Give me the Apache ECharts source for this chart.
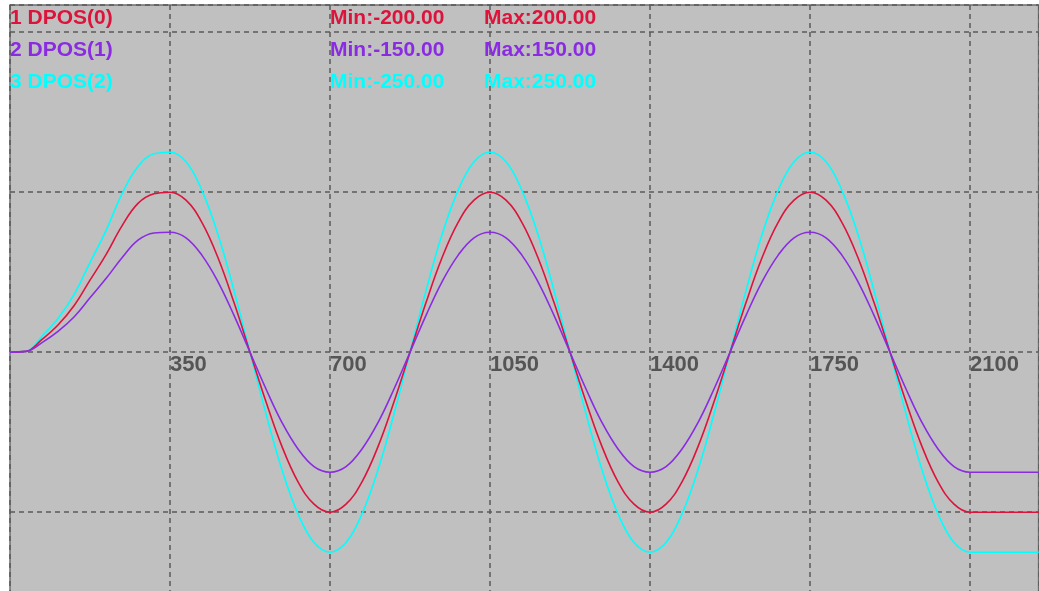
<!DOCTYPE html>
<html>
<head>
<meta charset="utf-8">
<script src="https://cdn.jsdelivr.net/npm/echarts@6/dist/echarts.min.js"></script>
<style>
html,body{margin:0;padding:0;background:#ffffff;}
#chart{width:1039px;height:591px;}
</style>
</head>
<body>
<div id="chart"></div>
<script>
// Sample positions (x axis units)
const xValues = [0,35,70,105,140,175,210,245,280,315,350,
  385,420,455,490,525,560,595,630,665,700,
  735,770,805,840,875,910,945,980,1015,1050,
  1085,1120,1155,1190,1225,1260,1295,1330,1365,1400,
  1435,1470,1505,1540,1575,1610,1645,1680,1715,1750,
  1785,1820,1855,1890,1925,1960,1995,2030,2065,2100,
  2135,2250];

// 1 DPOS(0)
const dpos0 = [0,1,16,34,58,90,122,158,186,198,200,
  190,162,118,62,0,-62,-118,-162,-190,-200,
  -190,-162,-118,-62,0,62,118,162,190,200,
  190,162,118,62,0,-62,-118,-162,-190,-200,
  -190,-162,-118,-62,0,62,118,162,190,200,
  190,162,118,62,0,-62,-118,-162,-190,-200,
  -200,-200];

// 2 DPOS(1)
const dpos1 = [0,1,12,26,44,68,92,118,140,149,150,
  143,121,88,46,0,-46,-88,-121,-143,-150,
  -143,-121,-88,-46,0,46,88,121,143,150,
  143,121,88,46,0,-46,-88,-121,-143,-150,
  -143,-121,-88,-46,0,46,88,121,143,150,
  143,121,88,46,0,-46,-88,-121,-143,-150,
  -150,-150];

// 3 DPOS(2)
const dpos2 = [0,1,20,42,72,112,152,198,232,248,250,
  238,202,147,77,0,-77,-147,-202,-238,-250,
  -238,-202,-147,-77,0,77,147,202,238,250,
  238,202,147,77,0,-77,-147,-202,-238,-250,
  -238,-202,-147,-77,0,77,147,202,238,250,
  238,202,147,77,0,-77,-147,-202,-238,-250,
  -250,-250];

const seriesNames = ['1 DPOS(0)', '2 DPOS(1)', '3 DPOS(2)'];
const minLabels = ['Min:-200.00', 'Min:-150.00', 'Min:-250.00'];
const maxLabels = ['Max:200.00', 'Max:150.00', 'Max:250.00'];
const colors = ['#dc143c', '#8a2be2', '#00ffff'];

function pairs(ys){ return xValues.map((x,i)=>[x, ys[i]]); }

const chart = echarts.init(document.getElementById('chart'), null, {renderer:'canvas'});

const textFont = 'bold 21px "Liberation Sans", Arial, sans-serif';
const graphics = [];
seriesNames.forEach((n, i) => {
  const y = 18.5 + i * 32;
  graphics.push({type:'text', left:10, top:y-11, z:100,
    style:{text:n, fill:colors[i], font:textFont}});
  graphics.push({type:'text', left:330, top:y-11, z:100,
    style:{text:minLabels[i], fill:colors[i], font:textFont}});
  graphics.push({type:'text', left:484, top:y-11, z:100,
    style:{text:maxLabels[i], fill:colors[i], font:textFont}});
});

const gridLine = {show:true, lineStyle:{color:'#5a5a5a', width:1.5, type:[5,4]}};

// grid geometry: 0 on the y axis sits 319.9px above the grid's bottom edge
const gridTop = 5, gridHeight = 667.2, yMin = -400, yMax = 434;
const zeroOffset = gridHeight * (0 - yMin) / (yMax - yMin);

chart.setOption({
  animation:false,
  backgroundColor:'#ffffff',
  grid:{left:10, top:gridTop, width:1028.6, height:gridHeight, show:true, containLabel:false,
        outerBoundsMode:'none',
        backgroundColor:'#c0c0c0', borderColor:'#6e6e6e', borderWidth:1.5},
  xAxis:{type:'value', min:0, max:2250, interval:350, position:'bottom',
    offset:-zeroOffset,
    axisLine:{show:false, onZero:false},
    axisTick:{show:false},
    splitLine:gridLine,
    axisLabel:{show:true, showMinLabel:false, showMaxLabel:false, align:'left',
      margin:2, color:'#555555', fontSize:22, fontWeight:'bold',
      fontFamily:'"Liberation Sans", Arial, sans-serif',
      formatter:function(v){ return String(v); }}
  },
  yAxis:{type:'value', min:yMin, max:yMax, interval:200,
    axisLine:{show:false, onZero:false}, axisTick:{show:false}, axisLabel:{show:false},
    splitLine:gridLine
  },
  graphic:graphics,
  series:[
    {name:seriesNames[2], type:'line', data:pairs(dpos2), smooth:0.4, showSymbol:false,
     lineStyle:{color:colors[2], width:1.6}, z:3},
    {name:seriesNames[0], type:'line', data:pairs(dpos0), smooth:0.4, showSymbol:false,
     lineStyle:{color:colors[0], width:1.6}, z:4},
    {name:seriesNames[1], type:'line', data:pairs(dpos1), smooth:0.4, showSymbol:false,
     lineStyle:{color:colors[1], width:1.6}, z:5}
  ]
});
</script>
</body>
</html>
